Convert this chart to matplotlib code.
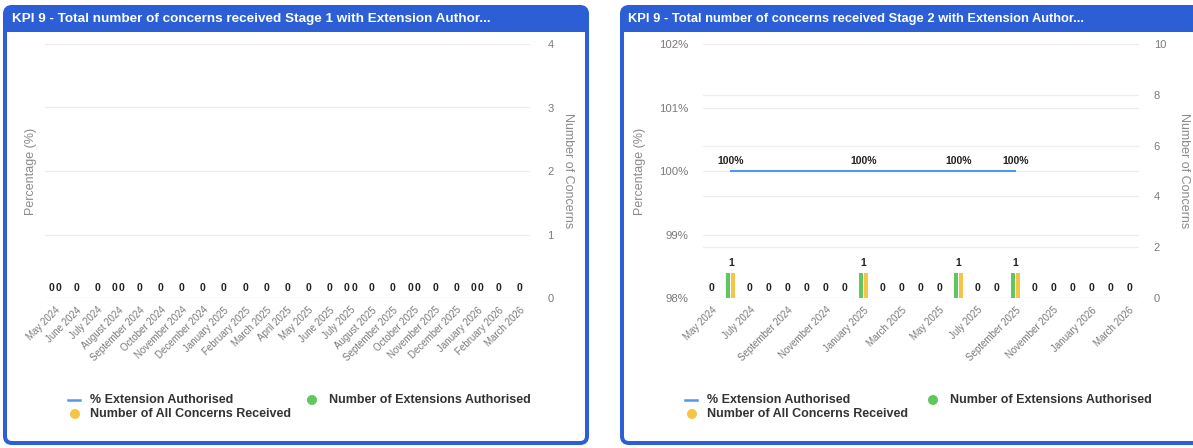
import numpy as np
import matplotlib
matplotlib.use("Agg")
import matplotlib.pyplot as plt
from matplotlib.patches import FancyBboxPatch, Rectangle, Circle
from matplotlib.lines import Line2D

plt.rcParams["font.family"] = ["Liberation Sans", "DejaVu Sans"]

nan = np.nan

months = ["May 2024", "June 2024", "July 2024", "August 2024", "September 2024",
          "October 2024", "November 2024", "December 2024", "January 2025",
          "February 2025", "March 2025", "April 2025", "May 2025", "June 2025",
          "July 2025", "August 2025", "September 2025", "October 2025",
          "November 2025", "December 2025", "January 2026", "February 2026",
          "March 2026"]

# Stage 1
s1_extensions = [0, 0, 0, 0, 0, 0, 0, 0, 0, 0, 0, 0, 0, 0, 0, 0, 0, 0, 0, 0, 0, 0, 0]
s1_concerns = [0, 0, 0, 0, 0, 0, 0, 0, 0, 0, 0, 0, 0, 0, 0, 0, 0, 0, 0, 0, 0, 0, 0]
s1_pct = [nan] * 23
s1_paired_labels = [0, 3, 14, 17, 20]   # months where both bar labels are shown
s1_count_ticks = [0, 1, 2, 3, 4]

# Stage 2
s2_extensions = [0, 1, 0, 0, 0, 0, 0, 0, 1, 0, 0, 0, 0, 1, 0, 0, 1, 0, 0, 0, 0, 0, 0]
s2_concerns = [0, 1, 0, 0, 0, 0, 0, 0, 1, 0, 0, 0, 0, 1, 0, 0, 1, 0, 0, 0, 0, 0, 0]
s2_pct = [nan, 100, nan, nan, nan, nan, nan, nan, 100, nan, nan, nan, nan, 100,
          nan, nan, 100, nan, nan, nan, nan, nan, nan]
s2_paired_labels = []
s2_count_ticks = [0, 2, 4, 6, 8, 10]
s2_pct_ticks = [98, 99, 100, 101, 102]

titles = ["KPI 9 - Total number of concerns received Stage 1 with Extension Author...",
          "KPI 9 - Total number of concerns received Stage 2 with Extension Author..."]
legend_labels = ["% Extension Authorised", "Number of Extensions Authorised",
                 "Number of All Concerns Received"]

BLUE = "#2c5fd6"
LINE_BLUE = "#4f98ea"
GREEN = "#5ec85e"
YELLOW = "#f6c446"
GRID = "#eeeeee"
TICK = "#7a7a7a"
LABEL = "#222222"

W, H = 1193, 448
fig = plt.figure(figsize=(W / 100, H / 100), dpi=100)
fig.patch.set_facecolor("white")

bg = fig.add_axes([0, 0, 1, 1], zorder=0)
bg.set_xlim(0, W)
bg.set_ylim(H, 0)
bg.axis("off")


def box(x0, y0, x1, y1):
    return [x0 / W, 1 - y1 / H, (x1 - x0) / W, (y1 - y0) / H]


def card(x0, x1, title, tx, tsize):
    c = FancyBboxPatch((x0, 7), x1 - x0, 436, boxstyle="round,pad=0,rounding_size=7",
                       fc="white", ec=BLUE, lw=2.9)
    bg.add_patch(c)
    hdr = Rectangle((x0, 5), x1 - x0, 27, fc=BLUE, ec="none")
    hdr.set_clip_path(c)
    bg.add_patch(hdr)
    bg.text(tx, 19, title, color="white", fontsize=tsize, fontweight="bold",
            ha="left", va="center")


def legend(xl, xg):
    bg.add_line(Line2D([xl - 7, xl + 5], [400, 400], color=LINE_BLUE, lw=1.8))
    bg.text(xl + 15, 400, legend_labels[0], fontsize=9, fontweight="bold",
            color="#333333", ha="left", va="center")
    bg.add_patch(Circle((xg, 400), 5, color=GREEN, lw=0))
    bg.text(xg + 17, 400, legend_labels[1], fontsize=9, fontweight="bold",
            color="#333333", ha="left", va="center")
    bg.add_patch(Circle((xl, 414), 5, color=YELLOW, lw=0))
    bg.text(xl + 15, 414, legend_labels[2], fontsize=9, fontweight="bold",
            color="#333333", ha="left", va="center")


def panel(rect, ext, conc, pct, paired, count_ticks, pct_ticks, xtick_step,
          left_pad, right_pad, ylabel_x, ylabel2_x):
    ax = fig.add_axes(rect, zorder=2)
    ax.set_facecolor("none")
    axr = ax.twinx()
    axr.set_zorder(1)
    ax.set_zorder(2)
    ax.patch.set_visible(False)
    x = np.arange(len(months))
    for a in (ax, axr):
        for s in a.spines.values():
            s.set_visible(False)
        a.set_xlim(-0.5, len(months) - 0.5)

    # count axis (right)
    axr.set_ylim(count_ticks[0], count_ticks[-1])
    axr.set_yticks(count_ticks)
    axr.tick_params(axis="y", length=0, pad=right_pad, labelsize=8, labelcolor=TICK)
    for t in count_ticks:
        axr.axhline(t, color="#dcdcdc" if t == 0 else GRID, lw=0.9, zorder=0)

    # percentage axis (left)
    if pct_ticks:
        ax.set_ylim(pct_ticks[0], pct_ticks[-1])
        ax.set_yticks(pct_ticks)
        ax.set_yticklabels([f"{t}%" for t in pct_ticks])
        for t in pct_ticks[1:-1]:
            ax.axhline(t, color=GRID, lw=0.9, zorder=0)
    else:
        ax.set_yticks([])
    ax.tick_params(axis="y", length=0, pad=left_pad, labelsize=8.2, labelcolor=TICK)

    # bars
    w = 0.21
    off = 0.13
    axr.bar(x - off, ext, width=w, color=GREEN, zorder=3)
    axr.bar(x + off, conc, width=w, color=YELLOW, zorder=3)

    # bar data labels
    for i in x:
        if i in paired:
            pairs = [(i - 0.17, ext[i]), (i + 0.17, conc[i])]
        else:
            pairs = [(i, max(ext[i], conc[i]))]
        for xi, v in pairs:
            axr.annotate(f"{v}", (xi, v), xytext=(0, 3.5), textcoords="offset points",
                         ha="center", va="bottom", fontsize=7.5, fontweight="bold",
                         color=LABEL, zorder=5)

    # percentage line
    p = np.array(pct, dtype=float)
    ok = ~np.isnan(p)
    if ok.any():
        ax.plot(x[ok], p[ok], color=LINE_BLUE, lw=1.5, zorder=4)
        for xi, v in zip(x[ok], p[ok]):
            ax.annotate(f"{v:.0f}%", (xi, v), xytext=(0, 3.5), textcoords="offset points",
                        ha="center", va="bottom", fontsize=7.5, fontweight="bold",
                        color=LABEL, zorder=5)

    # x axis
    ax.set_xticks(x[::xtick_step])
    ax.set_xticklabels(months[::xtick_step], rotation=45, ha="right", va="top",
                       rotation_mode="anchor")
    ax.tick_params(axis="x", length=0, pad=5, labelsize=7, labelcolor=TICK)
    axr.tick_params(axis="x", length=0)

    ax.set_ylabel("Percentage (%)", fontsize=9, color="#8a8a8a")
    bb = ax.get_position()
    ax.yaxis.set_label_coords((ylabel_x / W - bb.x0) / bb.width, 0.5)
    axr.set_ylabel("Number of Concerns", fontsize=9, color="#8a8a8a", rotation=270,
                   va="center")
    axr.yaxis.set_label_coords((ylabel2_x / W - bb.x0) / bb.width, 0.5)
    return ax, axr


card(5, 587, titles[0], 12, 9.7)
card(622, 1205, titles[1], 628, 9.3)
legend(75, 312)
legend(692, 933)

panel(box(44.5, 44, 530, 298), s1_extensions, s1_concerns, s1_pct, s1_paired_labels,
      s1_count_ticks, None, 1, 0, 12.5, 37, 568)
panel(box(702.5, 44, 1138.5, 298), s2_extensions, s2_concerns, s2_pct, s2_paired_labels,
      s2_count_ticks, s2_pct_ticks, 2, 10.5, 11, 646, 1184)

fig.savefig("out.png", dpi=100)
